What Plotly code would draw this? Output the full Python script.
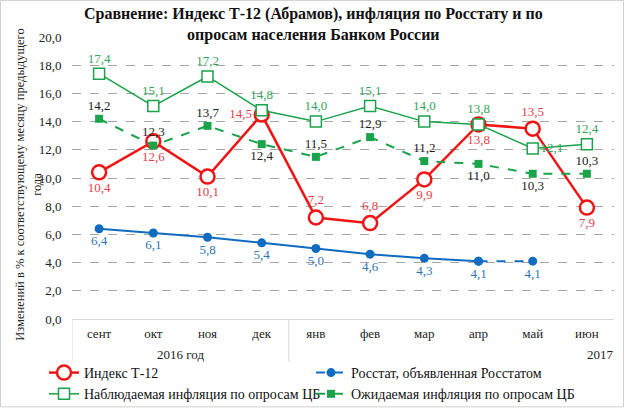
import plotly.graph_objects as go

months = ["сент", "окт", "ноя", "дек", "янв", "фев", "мар", "апр", "май", "июн"]
t12 = [10.4, 12.6, 10.1, 14.5, 7.2, 6.8, 9.9, 13.8, 13.5, 7.9]
rosstat = [6.4, 6.1, 5.8, 5.4, 5.0, 4.6, 4.3, 4.1, 4.1, None]
observed = [17.4, 15.1, 17.2, 14.8, 14.0, 15.1, 14.0, 13.8, 12.1, 12.4]
expected = [14.2, 12.3, 13.7, 12.4, 11.5, 12.9, 11.2, 11.0, 10.3, 10.3]
y_ticks = [0, 2, 4, 6, 8, 10, 12, 14, 16, 18, 20]
year_labels = ["2016 год", "2017"]

t12_pos = ["bottom center", "bottom center", "bottom center", "middle left", "top center",
           "top center", "bottom center", "bottom center", "top center", "bottom center"]
obs_pos = ["top center"] * 8 + ["middle right", "top center"]
exp_pos = ["top center", "top center", "top center", "bottom center", "top center",
           "top center", "top center", "bottom center", "bottom center", "top center"]


def lab(vals):
    return ["" if v is None else f"{v:.1f}".replace(".", ",") for v in vals]


SERIF = "Liberation Serif"
RED = "#F01414"
GREEN = "#1AA34A"
BLUE = "#0F6CC0"

fig = go.Figure()

fig.add_trace(go.Scatter(
    x=months, y=t12, name="Индекс Т-12", mode="lines+markers+text",
    line=dict(color=RED, width=2.5),
    marker=dict(symbol="circle", size=14, color="white", line=dict(color=RED, width=2.5)),
    text=lab(t12), textposition=t12_pos,
    textfont=dict(family=SERIF, size=13, color="#E2414B"),
    legendrank=1,
))

# solid part of Rosstat series (no legend)
fig.add_trace(go.Scatter(
    x=months[:8], y=rosstat[:8], name="Росстат", mode="lines+markers+text",
    line=dict(color=BLUE, width=2),
    marker=dict(symbol="circle", size=9, color=BLUE),
    text=lab(rosstat[:8]), textposition="bottom center",
    textfont=dict(family=SERIF, size=13, color="#2E75B6"),
    showlegend=False,
))
fig.add_trace(go.Scatter(
    x=months[7:9], y=rosstat[7:9], name="Росстат, объявленная Росстатом",
    mode="lines+markers+text",
    line=dict(color=BLUE, width=2, dash="dash"),
    marker=dict(symbol="circle", size=9, color=BLUE),
    text=["", lab(rosstat[8:9])[0]], textposition="bottom center",
    textfont=dict(family=SERIF, size=13, color="#2E75B6"),
    legendrank=2,
))

fig.add_trace(go.Scatter(
    x=months, y=observed, name="Наблюдаемая инфляция по опросам ЦБ",
    mode="lines+markers+text",
    line=dict(color=GREEN, width=1.5),
    marker=dict(symbol="square", size=11, color="white", line=dict(color=GREEN, width=1.5)),
    text=lab(observed), textposition=obs_pos,
    textfont=dict(family=SERIF, size=13, color="#34A55A"),
    legendrank=3,
))

fig.add_trace(go.Scatter(
    x=months, y=expected, name="Ожидаемая инфляция по опросам ЦБ",
    mode="lines+markers+text",
    line=dict(color=GREEN, width=2, dash="dash"),
    marker=dict(symbol="square", size=8, color=GREEN),
    text=lab(expected), textposition=exp_pos,
    textfont=dict(family=SERIF, size=13, color="#222222"),
    legendrank=4,
))

L, R, T, B = 72, 11, 37, 89.5
W, H = 625, 409
pw = W - L - R
ph = H - T - B


def py(pix):
    return (H - B - pix) / ph


def px(pix):
    return (pix - L) / pw


fig.update_layout(
    width=W, height=H,
    margin=dict(l=L, r=R, t=T, b=B, autoexpand=False),
    paper_bgcolor="white", plot_bgcolor="white",
    separators=", ",
    font=dict(family=SERIF, size=13, color="#222222"),
    xaxis=dict(
        type="category", range=[-0.5, 9.5], showgrid=False, zeroline=False,
        showline=True, linecolor="#D9D9D9", linewidth=1,
        ticks="outside", ticklen=2, tickcolor="rgba(0,0,0,0)",
        tickfont=dict(family=SERIF, size=13, color="#222222"),
        automargin=False,
    ),
    yaxis=dict(
        range=[0, 20], tickvals=y_ticks, tickformat=".1f",
        showgrid=True, gridcolor="#A6A6A6", griddash="dash", gridwidth=1,
        zeroline=False, showline=False, ticks="outside", ticklen=7, tickcolor="rgba(0,0,0,0)",
        tickfont=dict(family=SERIF, size=13, color="#222222"),
        automargin=False,
    ),
    legend=dict(
        orientation="h", xref="container", yref="container",
        x=44 / W, xanchor="left", y=1 - 357 / H, yanchor="top",
        entrywidth=222, entrywidthmode="pixels",
        font=dict(family=SERIF, size=14, color="#111111"),
        bgcolor="rgba(0,0,0,0)", itemwidth=30, tracegroupgap=0,
    ),
    showlegend=True,
)

# title
fig.add_annotation(
    text="<b>Сравнение: Индекс Т-12 (Абрамов), инфляция по Росстату и по<br>опросам населения Банком России</b>",
    xref="paper", yref="paper", x=px(313), y=py(24), xanchor="center", yanchor="middle",
    showarrow=False, font=dict(family=SERIF, size=16, color="#111111"),
)

# category group separators
for xv in [-0.5, 3.5]:
    fig.add_shape(type="line", xref="x", yref="paper", x0=xv, x1=xv,
                  y0=0, y1=py(362), line=dict(color="#D9D9D9", width=1))

fig.add_annotation(text=year_labels[0], xref="x", yref="paper", x=1.5, y=py(355),
                   xanchor="center", yanchor="middle",
                   showarrow=False, font=dict(family=SERIF, size=13, color="#222222"))
fig.add_annotation(text=year_labels[1], xref="paper", yref="paper", x=px(616), y=py(355),
                   xanchor="right", yanchor="middle", showarrow=False,
                   font=dict(family=SERIF, size=13, color="#222222"))

# y-axis title
fig.add_annotation(
    text="Изменений в % к соответствующему месяцу предыдущего<br>года",
    xref="paper", yref="paper", x=px(28), y=py(185), textangle=-90,
    xanchor="center", yanchor="middle",
    showarrow=False, font=dict(family=SERIF, size=12.5, color="#222222"),
)

# outer border
fig.add_shape(type="rect", xref="paper", yref="paper",
              x0=px(0.5), x1=px(W - 1.5), y0=py(H - 1.5), y1=py(0.5),
              line=dict(color="#D0D0D0", width=1), layer="below")

fig.write_html(
    "out.html",
    config={"displayModeBar": False},
    post_script="document.body.style.margin='0';document.body.style.overflow='hidden';",
)
